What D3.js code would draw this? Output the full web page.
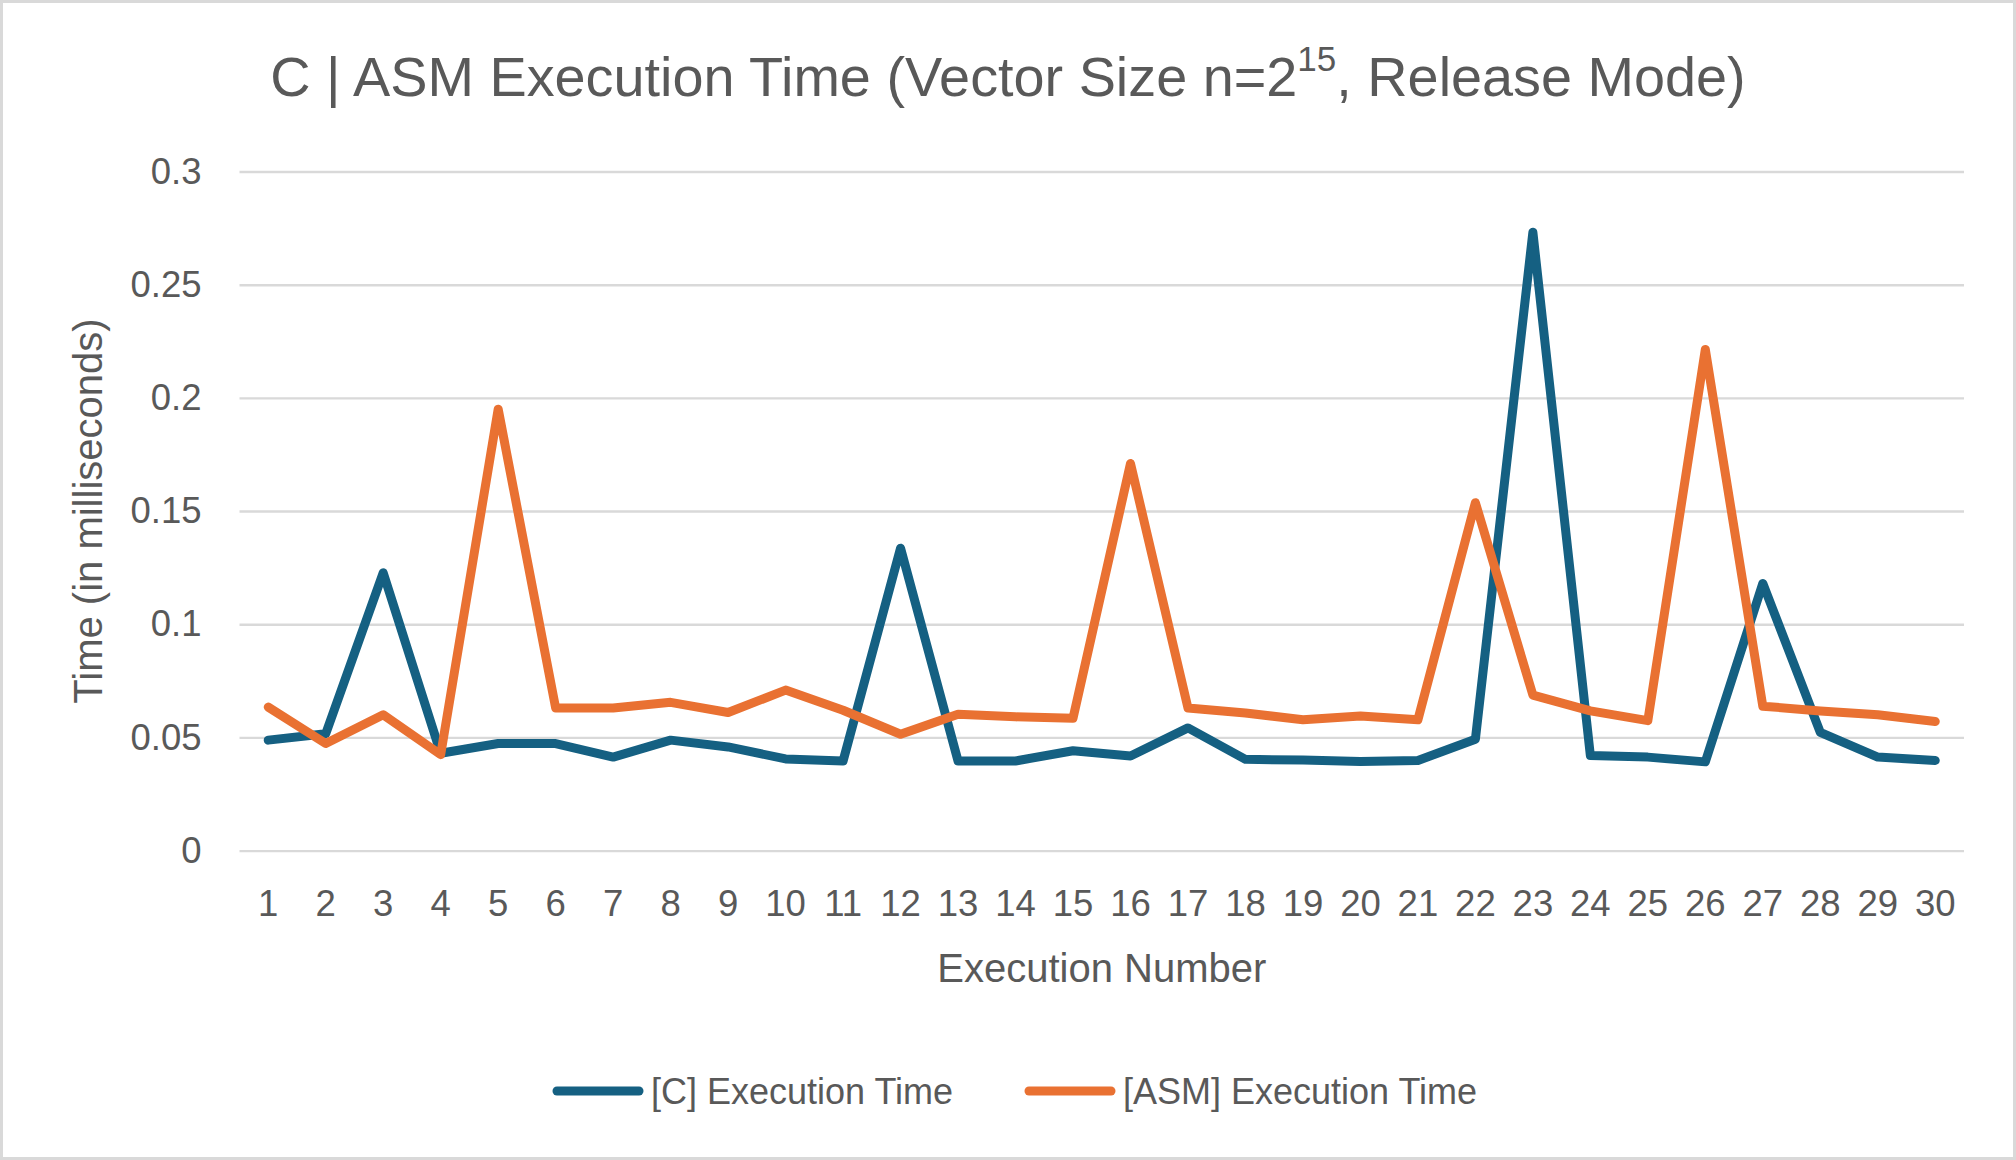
<!DOCTYPE html>
<html>
<head>
<meta charset="utf-8">
<script src="https://cdn.jsdelivr.net/npm/d3@7"></script>
<style>
  body { margin: 0; background: #fff; }
  svg { display: block; }
  .tick text { fill: #595959; }
</style>
</head>
<body>
<script>
// execution numbers 1..30
const runs = [1,2,3,4,5,6,7,8,9,10,11,12,13,14,15,16,17,18,19,20,21,22,23,24,25,26,27,28,29,30];

const cTimes = [0.0488, 0.0516, 0.1227, 0.0430, 0.0473, 0.0473, 0.0413, 0.0488, 0.0458, 0.0405,
                0.0396, 0.1336, 0.0396, 0.0396, 0.0441, 0.0418, 0.0542, 0.0403, 0.0400, 0.0394,
                0.0398, 0.0492, 0.2732, 0.0420, 0.0413, 0.0392, 0.1180, 0.0522, 0.0413, 0.0398];

const asmTimes = [0.0634, 0.0473, 0.0600, 0.0424, 0.1950, 0.0630, 0.0630, 0.0655, 0.0610, 0.0709,
                  0.0620, 0.0514, 0.0602, 0.0591, 0.0585, 0.1710, 0.0630, 0.0608, 0.0578, 0.0595,
                  0.0578, 0.1537, 0.0687, 0.0617, 0.0574, 0.2214, 0.0638, 0.0617, 0.0600, 0.0570];

const yTicks = [0, 0.05, 0.1, 0.15, 0.2, 0.25, 0.3];

const seriesNames = ['[C] Execution Time', '[ASM] Execution Time'];
const seriesColors = ['#156082', '#E97132'];

const width = 2016, height = 1160;
const margin = { top: 171.5, right: 52, bottom: 309.4, left: 239.5 };
const innerW = width - margin.left - margin.right;
const innerH = height - margin.top - margin.bottom;
const textColor = '#595959';
const sans = '"Liberation Sans", Arial, sans-serif';

const svg = d3.select('body').append('svg')
	.attr('width', width)
	.attr('height', height);

// chart border
svg.append('rect')
	.attr('x', 1.5).attr('y', 1.5)
	.attr('width', width - 3).attr('height', height - 3)
	.attr('fill', '#fff')
	.attr('stroke', '#d9d9d9')
	.attr('stroke-width', 3);

const g = svg.append('g').attr('transform', `translate(${margin.left},${margin.top})`);

const x = d3.scaleBand()
	.domain(runs)
	.range([0, innerW])
	.padding(0);

const y = d3.scaleLinear()
	.domain([0, 0.3])
	.range([innerH, 0]);

const xc = d => x(d) + x.bandwidth() / 2;

// y axis + gridlines
const yAxis = g.append('g')
	.call(d3.axisLeft(y)
		.tickValues(yTicks)
		.tickSize(-innerW)
		.tickPadding(38)
		.tickFormat(d3.format('~g')));
yAxis.select('.domain').remove();
yAxis.selectAll('.tick line')
	.attr('stroke', '#d9d9d9')
	.attr('stroke-width', 2.4);
yAxis.selectAll('.tick text')
	.style('font-family', sans)
	.style('font-size', '36.5px');

// x axis
const xAxis = g.append('g')
	.attr('transform', `translate(0,${innerH})`)
	.call(d3.axisBottom(x).tickSize(0).tickPadding(39));
xAxis.select('.domain').remove();
xAxis.selectAll('.tick text')
	.style('font-family', sans)
	.style('font-size', '36.5px');

// lines
const line = d3.line()
	.x((d, i) => xc(runs[i]))
	.y(d => y(d));

[cTimes, asmTimes].forEach((vals, k) => {
	g.append('path')
		.datum(vals)
		.attr('fill', 'none')
		.attr('stroke', seriesColors[k])
		.attr('stroke-width', 9)
		.attr('stroke-linejoin', 'round')
		.attr('stroke-linecap', 'round')
		.attr('d', line);
});

// title
const title = svg.append('text')
	.attr('x', width / 2)
	.attr('y', 96)
	.attr('text-anchor', 'middle')
	.style('font-family', sans)
	.style('font-size', '55.8px')
	.attr('fill', textColor);
title.append('tspan').text('C | ASM Execution Time (Vector Size n=2');
title.append('tspan').attr('dy', -25).style('font-size', '35px').text('15');
title.append('tspan').attr('dy', 25).text(', Release Mode)');

// axis titles
svg.append('text')
	.attr('transform', `translate(102,${margin.top + innerH / 2}) rotate(-90)`)
	.attr('text-anchor', 'middle')
	.style('font-family', sans)
	.style('font-size', '40px')
	.attr('fill', textColor)
	.text('Time (in milliseconds)');

svg.append('text')
	.attr('x', margin.left + innerW / 2)
	.attr('y', 982)
	.attr('text-anchor', 'middle')
	.style('font-family', sans)
	.style('font-size', '40px')
	.attr('fill', textColor)
	.text('Execution Number');

// legend
const legendX = [553, 1025];
const legend = svg.append('g');
seriesNames.forEach((name, k) => {
	const lg = legend.append('g').attr('transform', `translate(${legendX[k]},1091)`);
	lg.append('line')
		.attr('x1', 4).attr('x2', 86)
		.attr('y1', 0).attr('y2', 0)
		.attr('stroke', seriesColors[k])
		.attr('stroke-width', 9)
		.attr('stroke-linecap', 'round');
	lg.append('text')
		.attr('x', 98)
		.attr('y', 13)
		.style('font-family', sans)
		.style('font-size', '36px')
		.attr('fill', textColor)
		.text(name);
});
</script>
</body>
</html>
